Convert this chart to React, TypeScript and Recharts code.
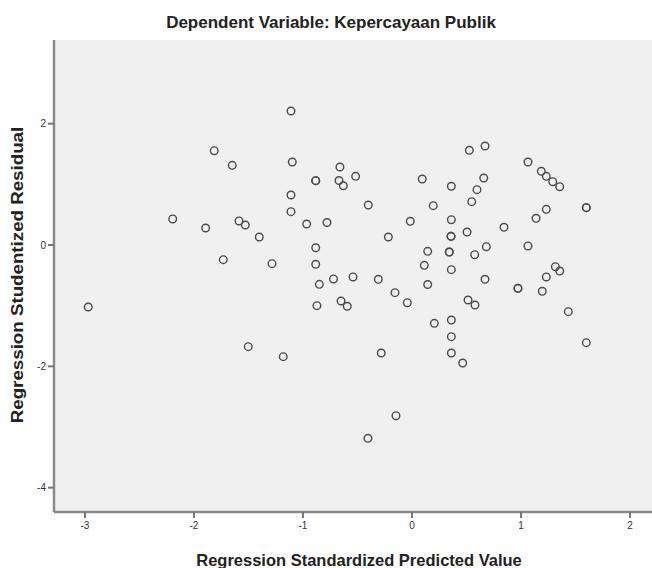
import React from 'react';
import { ScatterChart, Scatter, XAxis, YAxis, CartesianGrid } from 'recharts';

// Regression Standardized Predicted Value
const predicted: number[] = [
  -1.110, -1.814, -1.649, -1.098, -0.883, -0.883, -0.670, -0.661, -1.110, -1.110,
  -2.195, -1.893, -1.587, -1.529, -1.401, -0.966, -0.780, -0.883, -0.883, -1.731,
  -1.284, -0.850, -0.720, -0.651, -0.594, -0.872, -0.630, -0.517, -0.401, -0.217,
  -0.016, 0.094, 0.195, 0.361, 0.361, 0.358, 0.358, 0.342, 0.342, 0.361,
  0.505, 0.526, 0.670, 0.658, 0.596, 0.548, 0.144, 0.113, 0.144, 0.575,
  0.682, 0.670, 0.844, 1.064, 1.186, 1.232, 1.291, 1.355, 1.232, 1.138,
  1.064, 1.599, 1.599, 1.315, 1.355, 1.232, 0.972, 0.972, 1.195, -0.541,
  -0.309, -0.156, -0.043, 0.514, 0.578, 1.434, 0.205, 0.361, 0.361, 0.361,
  0.465, 1.599, -0.282, -0.147, -0.404, -2.970, -1.502, -1.181,
];

// Regression Studentized Residual
const residual: number[] = [
  2.209, 1.554, 1.313, 1.368, 1.060, 1.060, 1.063, 1.286, 0.824, 0.549,
  0.429, 0.280, 0.396, 0.330, 0.132, 0.346, 0.371, -0.045, -0.318, -0.242,
  -0.308, -0.648, -0.560, -0.923, -1.010, -1.000, 0.977, 1.132, 0.659, 0.132,
  0.391, 1.088, 0.648, 0.968, 0.417, 0.143, 0.143, -0.115, -0.115, -0.407,
  0.214, 1.561, 1.632, 1.104, 0.912, 0.714, -0.104, -0.335, -0.651, -0.160,
  -0.028, -0.565, 0.292, 1.368, 1.215, 1.132, 1.043, 0.961, 0.588, 0.440,
  -0.016, 0.615, 0.615, -0.358, -0.429, -0.527, -0.714, -0.714, -0.763, -0.527,
  -0.565, -0.786, -0.951, -0.907, -0.989, -1.099, -1.291, -1.236, -1.511, -1.780,
  -1.945, -1.610, -1.780, -2.814, -3.186, -1.022, -1.676, -1.841,
];

const xTicks: number[] = [-3, -2, -1, 0, 1, 2];
const yTicks: number[] = [-4, -2, 0, 2];
const xDomain: [number, number] = [-3.284, 2.275];
const yDomain: [number, number] = [-4.401, 3.379];

const title = 'Dependent Variable: Kepercayaan Publik';
const xTitle = 'Regression Standardized Predicted Value';
const yTitle = 'Regression Studentized Residual';

const data = predicted.map((x, i) => ({ x, y: residual[i] }));

const FONT = '"Liberation Sans", Arial, sans-serif';

const OpenCircle = (props: any) => {
  const { cx, cy } = props;
  if (cx == null || cy == null) return null;
  return <circle cx={cx} cy={cy} r={3.8} fill="none" stroke="#4a4a4a" strokeWidth={1.4} />;
};

export default function App() {
  const tickStyle = { fontSize: 10, fill: '#333', fontFamily: FONT };
  return (
    <div
      style={{
        position: 'absolute',
        left: 0,
        top: 0,
        width: 652,
        height: 568,
        overflow: 'hidden',
        background: '#fff',
        fontFamily: FONT,
      }}
    >
      <div
        style={{
          position: 'absolute',
          left: 0,
          width: 662,
          top: 13,
          textAlign: 'center',
          fontSize: 17,
          fontWeight: 'bold',
          color: '#222',
          lineHeight: '20px',
          whiteSpace: 'nowrap',
        }}
      >
        {title}
      </div>
      <div
        style={{
          position: 'absolute',
          left: 18 - 200,
          top: 275 - 10,
          width: 400,
          textAlign: 'center',
          fontSize: 16,
          fontWeight: 'bold',
          color: '#222',
          lineHeight: '20px',
          whiteSpace: 'nowrap',
          transform: 'rotate(-90deg) scaleX(1.17)',
        }}
      >
        {yTitle}
      </div>
      <div
        style={{
          position: 'absolute',
          left: 59,
          width: 600,
          top: 550,
          textAlign: 'center',
          fontSize: 16.5,
          fontWeight: 'bold',
          color: '#222',
          lineHeight: '20px',
          whiteSpace: 'nowrap',
        }}
      >
        {xTitle}
      </div>
      <ScatterChart width={680} height={568} margin={{ top: 40, right: 20, bottom: 0, left: 0 }}>
        <CartesianGrid fill="#f0f0f0" horizontal={false} vertical={false} />
        <XAxis
          xAxisId="top"
          orientation="top"
          type="number"
          domain={[0, 1]}
          height={0}
          tick={false}
          tickLine={false}
          axisLine={{ stroke: '#9a9a9a', strokeWidth: 2.5 }}
        />
        <XAxis
          dataKey="x"
          type="number"
          domain={xDomain}
          ticks={xTicks}
          allowDataOverflow
          height={56}
          tick={tickStyle}
          tickSize={6}
          tickMargin={4}
          tickLine={{ stroke: '#777', strokeWidth: 2 }}
          axisLine={{ stroke: '#8a8a8a', strokeWidth: 2.5 }}
        />
        <YAxis
          dataKey="y"
          type="number"
          domain={yDomain}
          ticks={yTicks}
          allowDataOverflow
          width={54}
          tick={tickStyle}
          tickSize={6}
          tickMargin={2}
          tickLine={{ stroke: '#777', strokeWidth: 2 }}
          axisLine={{ stroke: '#8a8a8a', strokeWidth: 2.5 }}
        />
        <Scatter data={data} shape={OpenCircle} isAnimationActive={false} />
      </ScatterChart>
    </div>
  );
}
